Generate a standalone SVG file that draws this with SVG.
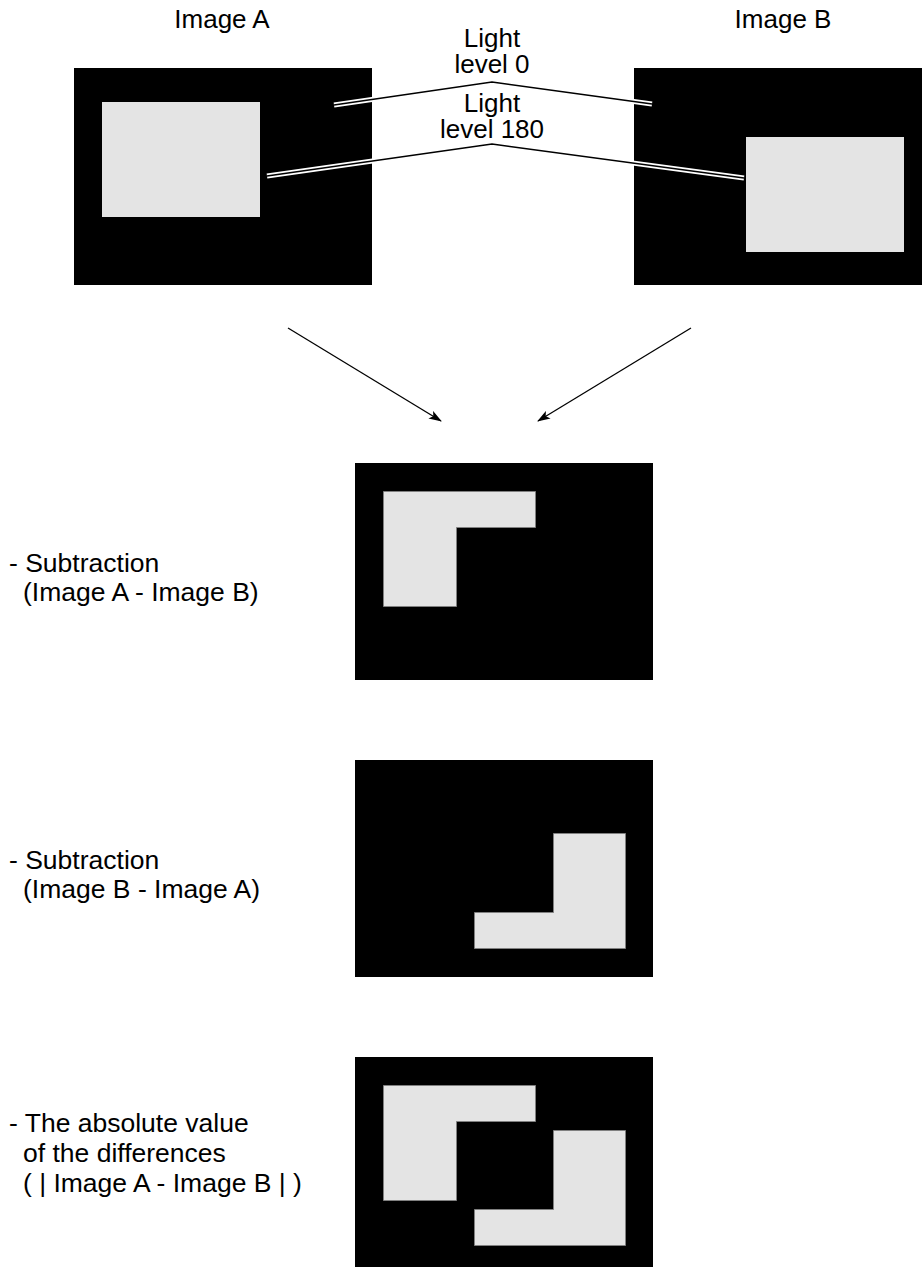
<svg xmlns="http://www.w3.org/2000/svg" width="922" height="1268" viewBox="0 0 922 1268">
<style>
text{font-family:"Liberation Sans",Arial,sans-serif;font-size:26px;fill:#000}
.c{text-anchor:middle}
.lab{font-size:26.5px}
.frame{fill:#000}
.lit{fill:#e4e4e4}
.sh{fill:#e4e4e4;stroke:#808080;stroke-width:1}
.halo{fill:none;stroke:#fff;stroke-width:5}
.ray{fill:none;stroke:#000;stroke-width:1.5}
.arr{stroke:#000;stroke-width:1.3;fill:none;marker-end:url(#ah)}
</style>
<defs>
<marker id="ah" viewBox="0 0 13 9" refX="12" refY="4.5" markerWidth="13" markerHeight="9" markerUnits="userSpaceOnUse" orient="auto">
<path d="M0,0 L13,4.5 L0,9 L3,4.5 Z" fill="#000"/>
</marker>
</defs>
<rect width="922" height="1268" fill="#fff"/>
<g id="imageA">
<text class="c" x="222" y="28">Image A</text>
<rect class="frame" x="74" y="68" width="298" height="217"/>
<rect class="lit" x="102" y="102" width="158" height="115"/>
</g>
<g id="imageB">
<text class="c" x="783" y="28">Image B</text>
<rect class="frame" x="634" y="68" width="288" height="217"/>
<rect class="lit" x="746" y="137" width="158" height="115"/>
</g>
<g id="lights">
<polyline class="halo" points="334,105 492,82 652,104"/>
<polyline class="ray" points="334,105 492,82 652,104"/>
<polyline class="halo" points="267,176 492,144 744,178"/>
<polyline class="ray" points="267,176 492,144 744,178"/>
<text class="c" x="492" y="47">Light</text>
<text class="c" x="492" y="73">level 0</text>
<text class="c" x="492" y="112">Light</text>
<text class="c" x="492" y="138">level 180</text>
</g>
<g id="connectors">
<line class="arr" x1="288" y1="328" x2="441" y2="421"/>
<line class="arr" x1="691" y1="328" x2="538" y2="421"/>
</g>
<g id="resultAB">
<rect class="frame" x="355" y="463" width="298" height="217"/>
<polygon class="sh" points="383.5,491.5 535.5,491.5 535.5,527.5 456.5,527.5 456.5,606.5 383.5,606.5"/>
<text class="lab" x="9" y="572">- Subtraction</text>
<text class="lab" x="23" y="601">(Image A - Image B)</text>
</g>
<g id="resultBA">
<rect class="frame" x="355" y="760" width="298" height="217"/>
<polygon class="sh" points="553.5,833.5 625.5,833.5 625.5,948.5 474.5,948.5 474.5,912.5 553.5,912.5"/>
<text class="lab" x="9" y="869">- Subtraction</text>
<text class="lab" x="23" y="898">(Image B - Image A)</text>
</g>
<g id="resultAbs">
<rect class="frame" x="355" y="1057" width="298" height="210"/>
<polygon class="sh" points="383.5,1085.5 535.5,1085.5 535.5,1121.5 456.5,1121.5 456.5,1200.5 383.5,1200.5"/>
<polygon class="sh" points="553.5,1130.5 625.5,1130.5 625.5,1245.5 474.5,1245.5 474.5,1209.5 553.5,1209.5"/>
<text class="lab" x="9" y="1132">- The absolute value</text>
<text class="lab" x="23" y="1162">of the differences</text>
<text class="lab" x="23" y="1192">( | Image A - Image B | )</text>
</g>
</svg>
